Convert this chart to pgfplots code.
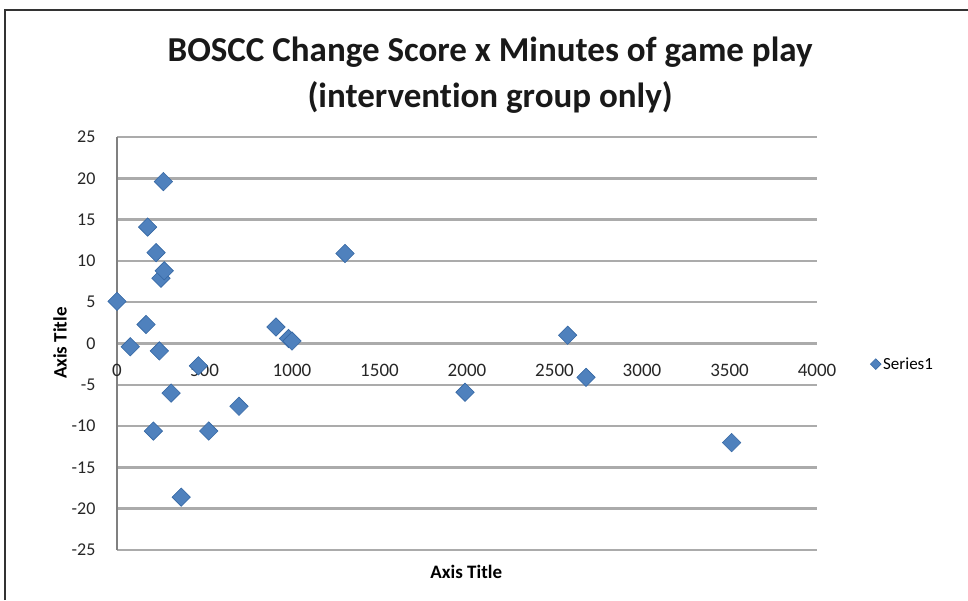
\documentclass[border=0pt]{standalone}
\usepackage{fontspec}
\setmainfont{Carlito}[Ligatures={NoCommon}]
\usepackage{pgfplots}
\pgfplotsset{compat=1.18}
\definecolor{ptblue}{HTML}{4F81BD}
\definecolor{ptedge}{HTML}{3567A3}
\definecolor{gridgray}{HTML}{ABABAB}
\begin{document}
\begin{tikzpicture}
\useasboundingbox (0pt,0pt) rectangle (968pt,600pt);
\draw[black!80, line width=1.2pt] (5pt,0pt) -- (5pt,590pt) -- (968pt,590pt);
\begin{axis}[
  at={(117pt,50pt)}, anchor=south west,
  scale only axis, width=700pt, height=413pt,
  xmin=0, xmax=4000, ymin=-25, ymax=25,
  axis x line=middle, axis y line=left,
  hide obscured x ticks=false,
  axis line style={-},
  x axis line style={draw=gridgray, line width=2.5pt},
  y axis line style={draw=black!50, line width=1.5pt},
  xtick={0,500,...,4000}, ytick={-25,-20,...,25},
  major tick length=0pt,
  ymajorgrids, major grid style={draw=gridgray, line width=2.5pt},
  /pgf/number format/assume math mode=true,
  /pgf/number format/1000 sep={},
  xticklabel style={font=\fontsize{19}{22}\selectfont, text=black!85, anchor=center, yshift=-27pt},
  yticklabel style={font=\fontsize{18}{21}\selectfont, text=black!85, anchor=east, xshift=-18pt},
  title={BOSCC Change Score x Minutes of game play\\(intervention group only)},
  title style={font=\fontsize{35}{46}\selectfont\bfseries, text=black!90, align=center, at={(axis description cs:0.533,1)}, anchor=center, yshift=56pt},
  xlabel={Axis Title},
  xlabel style={font=\fontsize{19}{22}\selectfont\bfseries, at={(axis description cs:0.499,0)}, anchor=center, yshift=-22pt},
  ylabel={Axis Title},
  ylabel style={font=\fontsize{19}{22}\selectfont\bfseries, at={(axis description cs:0,0.501)}, anchor=center, rotate=0, yshift=57pt},
  legend style={at={(axis description cs:1.076,0.45)}, anchor=west, draw=none, fill=none, font=\fontsize{17}{20}\selectfont, inner sep=0pt},
  legend image code/.code={\draw[#1, mark size=3.8pt] plot coordinates {(0.25em,0pt)};},
  clip=false,
]
\addplot[only marks, mark=square*, mark size=6.5pt,
  mark options={rotate=45, fill=ptblue, draw=ptedge, line width=0.6pt}]
  table {
x y
0 5.1
76 -0.4
166 2.3
175 14.1
208 -10.6
223 11.0
242 -0.9
251 7.9
265 19.6
270 8.8
309 -6.0
367 -18.6
465 -2.7
524 -10.6
697 -7.6
908 2.0
980 0.6
1000 0.3
1303 10.9
1989 -5.9
2575 1.0
2680 -4.1
3512 -12.0
};
\addlegendentry{Series1}
\end{axis}
\end{tikzpicture}
\end{document}
